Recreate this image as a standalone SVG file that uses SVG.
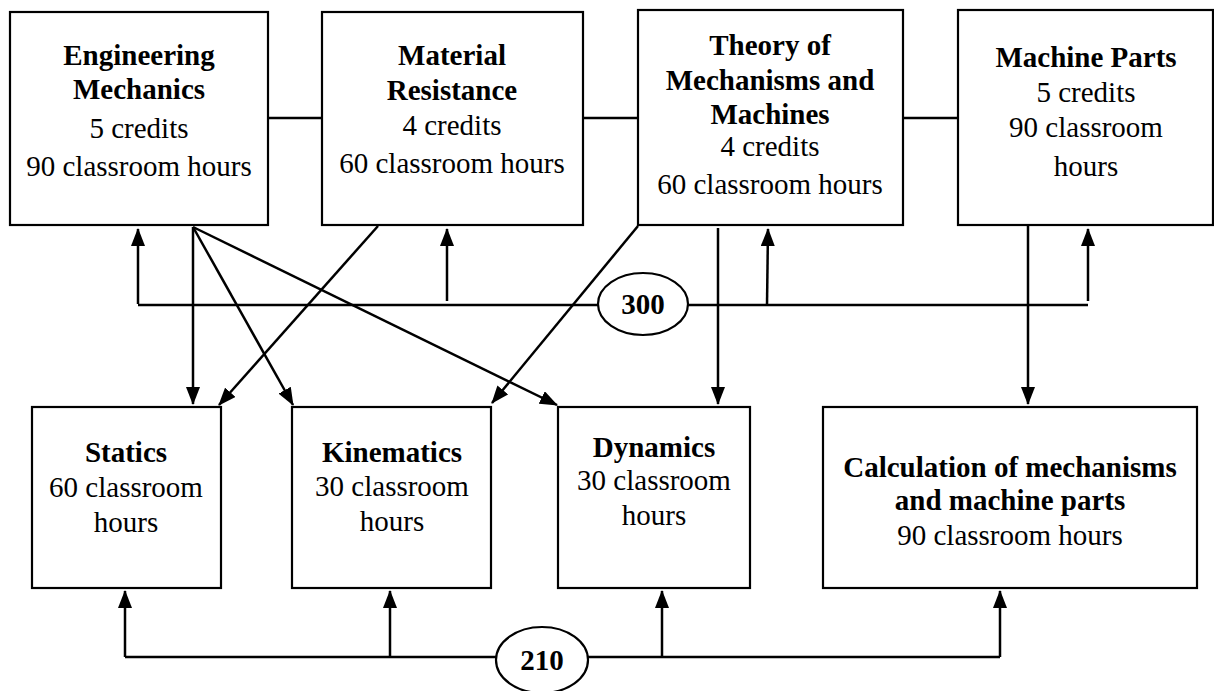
<svg xmlns="http://www.w3.org/2000/svg" width="1214" height="691" viewBox="0 0 1214 691" font-family="'Liberation Serif', serif">
<style>
.box{fill:#fff;stroke:#000;stroke-width:2.2}
.t{font-size:29px;text-anchor:middle;fill:#000;font-weight:normal}
.b{font-weight:bold}
.c{fill:none;stroke:#000;stroke-width:2.5}
.a{fill:none;stroke:#000;stroke-width:2.5;marker-end:url(#ah)}
</style>
<defs>
<marker id="ah" markerUnits="userSpaceOnUse" markerWidth="18" markerHeight="14" refX="17" refY="7" orient="auto">
<path d="M0,0 L18,7 L0,14 Z" fill="#000"/>
</marker>
</defs>
<rect width="1214" height="691" fill="#fff"/>
<g id="connectors">
<line class="c" x1="268" y1="118" x2="322" y2="118"/>
<line class="c" x1="583" y1="118" x2="638" y2="118"/>
<line class="c" x1="903" y1="118" x2="958" y2="118"/>
<line class="c" x1="138" y1="305" x2="598" y2="305"/>
<line class="c" x1="688" y1="305" x2="1088" y2="305"/>
<line class="a" x1="138" y1="304" x2="138" y2="229"/>
<line class="a" x1="447" y1="301" x2="447" y2="229"/>
<line class="a" x1="767" y1="305" x2="768" y2="229"/>
<line class="a" x1="1088" y1="301" x2="1088" y2="229"/>
<line class="a" x1="193" y1="227" x2="193" y2="404"/>
<line class="a" x1="193" y1="227" x2="293" y2="405"/>
<line class="a" x1="193" y1="227" x2="557" y2="405"/>
<line class="a" x1="378" y1="226" x2="219" y2="405"/>
<line class="a" x1="638" y1="226" x2="492" y2="403"/>
<line class="a" x1="718" y1="228" x2="718" y2="404"/>
<line class="a" x1="1028" y1="226" x2="1028" y2="404"/>
<line class="c" x1="125" y1="657" x2="496" y2="657"/>
<line class="c" x1="588" y1="657" x2="1000" y2="657"/>
<line class="a" x1="125" y1="657" x2="125" y2="591"/>
<line class="a" x1="390" y1="657" x2="390" y2="591"/>
<line class="a" x1="662" y1="657" x2="662" y2="591"/>
<line class="a" x1="1000" y1="657" x2="1000" y2="591"/>
</g>
<g id="engineering-mechanics">
<rect class="box" x="10" y="12" width="258" height="213"/>
<text class="t b" x="139" y="65">Engineering</text>
<text class="t b" x="139" y="99">Mechanics</text>
<text class="t" x="139" y="138">5 credits</text>
<text class="t" x="139" y="176">90 classroom hours</text>
</g>
<g id="material-resistance">
<rect class="box" x="322" y="12" width="261" height="213"/>
<text class="t b" x="452" y="65">Material</text>
<text class="t b" x="452" y="100">Resistance</text>
<text class="t" x="452" y="135">4 credits</text>
<text class="t" x="452" y="173">60 classroom hours</text>
</g>
<g id="theory-mechanisms">
<rect class="box" x="638" y="10" width="265" height="215"/>
<text class="t b" x="770" y="55">Theory of</text>
<text class="t b" x="770" y="90">Mechanisms and</text>
<text class="t b" x="770" y="124">Machines</text>
<text class="t" x="770" y="156">4 credits</text>
<text class="t" x="770" y="194">60 classroom hours</text>
</g>
<g id="machine-parts">
<rect class="box" x="958" y="10" width="255" height="215"/>
<text class="t b" x="1086" y="67">Machine Parts</text>
<text class="t" x="1086" y="102">5 credits</text>
<text class="t" x="1086" y="137">90 classroom</text>
<text class="t" x="1086" y="176">hours</text>
</g>
<g id="total-300">
<ellipse class="box" cx="643" cy="304" rx="45" ry="31"/>
<text class="t b" x="643" y="314">300</text>
</g>
<g id="statics">
<rect class="box" x="32" y="407" width="189" height="181"/>
<text class="t b" x="126" y="462">Statics</text>
<text class="t" x="126" y="497">60 classroom</text>
<text class="t" x="126" y="532">hours</text>
</g>
<g id="kinematics">
<rect class="box" x="292" y="407" width="199" height="181"/>
<text class="t b" x="392" y="462">Kinematics</text>
<text class="t" x="392" y="496">30 classroom</text>
<text class="t" x="392" y="531">hours</text>
</g>
<g id="dynamics">
<rect class="box" x="558" y="407" width="192" height="181"/>
<text class="t b" x="654" y="457">Dynamics</text>
<text class="t" x="654" y="490">30 classroom</text>
<text class="t" x="654" y="525">hours</text>
</g>
<g id="calculation">
<rect class="box" x="823" y="407" width="374" height="181"/>
<text class="t b" x="1010" y="477">Calculation of mechanisms</text>
<text class="t b" x="1010" y="510">and machine parts</text>
<text class="t" x="1010" y="545">90 classroom hours</text>
</g>
<g id="total-210">
<ellipse class="box" cx="542" cy="660" rx="46" ry="33"/>
<text class="t b" x="542" y="670">210</text>
</g>
</svg>
